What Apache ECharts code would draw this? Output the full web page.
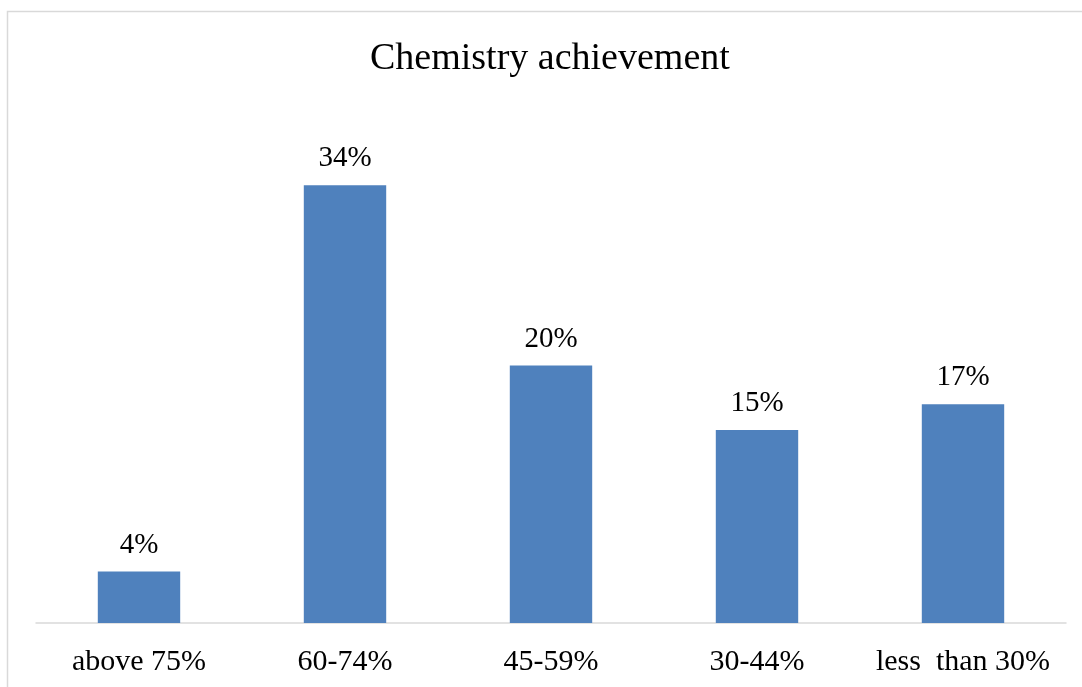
<!DOCTYPE html>
<html>
<head>
<meta charset="utf-8">
<title>Chemistry achievement</title>
<script src="https://cdn.jsdelivr.net/npm/echarts@6/dist/echarts.min.js"></script>
<style>
  html, body { margin: 0; padding: 0; background: #ffffff; }
  #chart { width: 1082px; height: 687px; }
</style>
</head>
<body>
<div id="chart"></div>
<script>
// Achievement bands and share of students in each (percent)
const categories = ['above 75%', '60-74%', '45-59%', '30-44%', 'less  than 30%'];
const shares = [4, 34, 20, 15, 17];

const serif = '"Liberation Serif", "Times New Roman", serif';

const chart = echarts.init(document.getElementById('chart'));
chart.setOption({
  animation: false,
  backgroundColor: '#ffffff',
  graphic: [{
    type: 'rect',
    shape: { x: 7.5, y: 11.5, width: 1100, height: 700 },
    style: { fill: 'none', stroke: '#d9d9d9', lineWidth: 1.5 },
    silent: true
  }],
  title: {
    text: 'Chemistry achievement',
    left: 365,
    top: 35,
    textStyle: { fontFamily: serif, fontSize: 38, fontWeight: 'normal', color: '#000000' }
  },
  grid: { left: 36, right: 16, top: 108, bottom: 64, containLabel: false },
  xAxis: {
    type: 'category',
    data: categories,
    axisLine: { lineStyle: { color: '#d9d9d9', width: 1.5 } },
    axisTick: { show: false },
    axisLabel: { fontFamily: serif, fontSize: 30, color: '#000000', margin: 24, interval: 0 }
  },
  yAxis: {
    type: 'value',
    min: 0,
    max: 40,
    interval: 10,
    show: false,
    splitLine: { show: false }
  },
  series: [{
    type: 'bar',
    data: shares,
    barCategoryGap: '60%',
    itemStyle: { color: '#4f81bd' },
    label: {
      show: true,
      position: 'top',
      distance: 12,
      formatter: p => p.value + '%',
      fontFamily: serif,
      fontSize: 29,
      color: '#000000'
    }
  }]
});
</script>
</body>
</html>
